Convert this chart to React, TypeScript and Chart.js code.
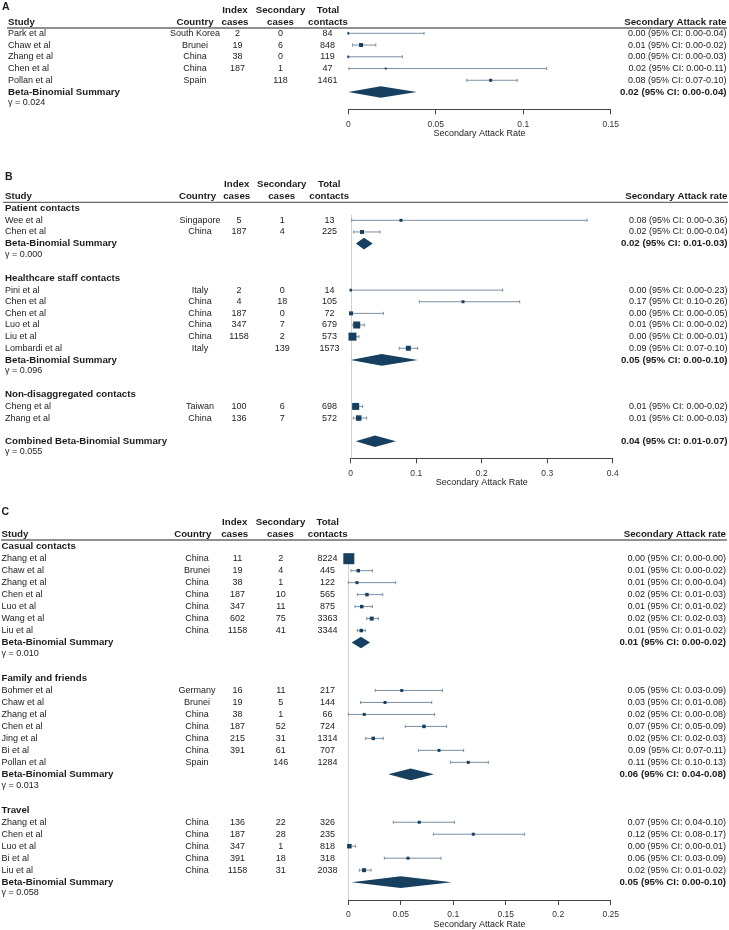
import React, { useEffect, useRef } from "react";
import { Chart, registerables } from "chart.js";

Chart.register(...registerables);

// ---------------- Panel A ----------------
const A_GROUPS = [""];
const A_STUDY = ["Park et al", "Chaw et al", "Zhang et al", "Chen et al", "Pollan et al"];
const A_COUNTRY = ["South Korea", "Brunei", "China", "China", "Spain"];
const A_INDEX = ["2", "19", "38", "187", ""];
const A_SECONDARY = ["0", "6", "0", "1", "118"];
const A_TOTAL = ["84", "848", "119", "47", "1461"];
const A_GROUP = [0, 0, 0, 0, 0];
const A_SAR = [0.0, 0.0073, 0.0, 0.0214, 0.0814];
const A_LOW = [0.0, 0.0025, 0.0, 0.0004, 0.0677];
const A_HIGH = [0.0433, 0.0157, 0.0309, 0.1134, 0.0966];
const A_LABEL = [
  "0.00 (95% CI: 0.00-0.04)",
  "0.01 (95% CI: 0.00-0.02)",
  "0.00 (95% CI: 0.00-0.03)",
  "0.02 (95% CI: 0.00-0.11)",
  "0.08 (95% CI: 0.07-0.10)",
];
const A_WEIGHT = [2, 4, 2, 2, 3];
const A_SUM_AFTER = [0];
const A_SUM_GAP = [0];
const A_SUM_NAME = ["Beta-Binomial Summary"];
const A_SUM_EST = [0.0185];
const A_SUM_LOW = [0.0];
const A_SUM_HIGH = [0.0391];
const A_SUM_TEXT = ["0.02 (95% CI: 0.00-0.04)"];
const A_GAMMA = ["γ = 0.024"];
const A_TICKS = [0, 0.05, 0.1, 0.15];

// ---------------- Panel B ----------------
const B_GROUPS = ["Patient contacts", "Healthcare staff contacts", "Non-disaggregated contacts"];
const B_STUDY = ["Wee et al", "Chen et al", "Pini et al", "Chen et al", "Chen et al", "Luo et al", "Liu et al", "Lombardi et al", "Cheng et al", "Zhang et al"];
const B_COUNTRY = ["Singapore", "China", "Italy", "China", "China", "China", "China", "Italy", "Taiwan", "China"];
const B_INDEX = ["5", "187", "2", "4", "187", "347", "1158", "", "100", "136"];
const B_SECONDARY = ["1", "4", "0", "18", "0", "7", "2", "139", "6", "7"];
const B_TOTAL = ["13", "225", "14", "105", "72", "679", "573", "1573", "698", "572"];
const B_GROUP = [0, 0, 1, 1, 1, 1, 1, 1, 2, 2];
const B_SAR = [0.0768, 0.0173, 0.0, 0.1715, 0.0005, 0.0092, 0.0027, 0.088, 0.0076, 0.0122];
const B_LOW = [0.0015, 0.0046, 0.0, 0.1047, 0.0, 0.0035, 0.0, 0.0742, 0.003, 0.004];
const B_HIGH = [0.3608, 0.0447, 0.232, 0.258, 0.0498, 0.0208, 0.0127, 0.1023, 0.0183, 0.0244];
const B_LABEL = [
  "0.08 (95% CI: 0.00-0.36)",
  "0.02 (95% CI: 0.00-0.04)",
  "0.00 (95% CI: 0.00-0.23)",
  "0.17 (95% CI: 0.10-0.26)",
  "0.00 (95% CI: 0.00-0.05)",
  "0.01 (95% CI: 0.00-0.02)",
  "0.00 (95% CI: 0.00-0.01)",
  "0.09 (95% CI: 0.07-0.10)",
  "0.01 (95% CI: 0.00-0.02)",
  "0.01 (95% CI: 0.00-0.03)",
];
const B_WEIGHT = [3, 4, 2.5, 3, 4, 7, 8, 5, 7, 5.5];
const B_SUM_AFTER = [0, 1, 2];
const B_SUM_GAP = [0, 0, 1];
const B_SUM_NAME = ["Beta-Binomial Summary", "Beta-Binomial Summary", "Combined Beta-Binomial Summary"];
const B_SUM_EST = [0.0203, 0.0473, 0.037];
const B_SUM_LOW = [0.008, 0.0, 0.0076];
const B_SUM_HIGH = [0.0336, 0.1023, 0.069];
const B_SUM_TEXT = ["0.02 (95% CI: 0.01-0.03)", "0.05 (95% CI: 0.00-0.10)", "0.04 (95% CI: 0.01-0.07)"];
const B_GAMMA = ["γ = 0.000", "γ = 0.096", "γ = 0.055"];
const B_TICKS = [0, 0.1, 0.2, 0.3, 0.4];

// ---------------- Panel C ----------------
const C_GROUPS = ["Casual contacts", "Family and friends", "Travel"];
const C_STUDY = [
  "Zhang et al", "Chaw et al", "Zhang et al", "Chen et al", "Luo et al", "Wang et al", "Liu et al",
  "Bohmer et al", "Chaw et al", "Zhang et al", "Chen et al", "Jing et al", "Bi et al", "Pollan et al",
  "Zhang et al", "Chen et al", "Luo et al", "Bi et al", "Liu et al",
];
const C_COUNTRY = [
  "China", "Brunei", "China", "China", "China", "China", "China",
  "Germany", "Brunei", "China", "China", "China", "China", "Spain",
  "China", "China", "China", "China", "China",
];
const C_INDEX = ["11", "19", "38", "187", "347", "602", "1158", "16", "19", "38", "187", "215", "391", "", "136", "187", "347", "391", "1158"];
const C_SECONDARY = ["2", "4", "1", "10", "11", "75", "41", "11", "5", "1", "52", "31", "61", "146", "22", "28", "1", "18", "31"];
const C_TOTAL = ["8224", "445", "122", "565", "875", "3363", "3344", "217", "144", "66", "724", "1314", "707", "1284", "326", "235", "818", "318", "2038"];
const C_GROUP = [0, 0, 0, 0, 0, 0, 0, 1, 1, 1, 1, 1, 1, 1, 2, 2, 2, 2, 2];
const C_SAR = [0.0005, 0.0095, 0.0083, 0.0178, 0.0128, 0.0223, 0.0124, 0.0509, 0.035, 0.0152, 0.0721, 0.0238, 0.0864, 0.1143, 0.0676, 0.1191, 0.001, 0.0569, 0.015];
const C_LOW = [0.0003, 0.0026, 0.0, 0.0086, 0.0064, 0.0175, 0.0086, 0.0257, 0.0118, 0.0, 0.0543, 0.0166, 0.0667, 0.0972, 0.0429, 0.081, 0.0, 0.0343, 0.0105];
const C_HIGH = [0.0008, 0.0229, 0.0452, 0.0328, 0.0229, 0.0286, 0.0162, 0.0896, 0.0795, 0.0823, 0.0937, 0.0333, 0.1099, 0.1334, 0.101, 0.1677, 0.007, 0.0883, 0.0216];
const C_LABEL = [
  "0.00 (95% CI: 0.00-0.00)",
  "0.01 (95% CI: 0.00-0.02)",
  "0.01 (95% CI: 0.00-0.04)",
  "0.02 (95% CI: 0.01-0.03)",
  "0.01 (95% CI: 0.01-0.02)",
  "0.02 (95% CI: 0.02-0.03)",
  "0.01 (95% CI: 0.01-0.02)",
  "0.05 (95% CI: 0.03-0.09)",
  "0.03 (95% CI: 0.01-0.08)",
  "0.02 (95% CI: 0.00-0.08)",
  "0.07 (95% CI: 0.05-0.09)",
  "0.02 (95% CI: 0.02-0.03)",
  "0.09 (95% CI: 0.07-0.11)",
  "0.11 (95% CI: 0.10-0.13)",
  "0.07 (95% CI: 0.04-0.10)",
  "0.12 (95% CI: 0.08-0.17)",
  "0.00 (95% CI: 0.00-0.01)",
  "0.06 (95% CI: 0.03-0.09)",
  "0.02 (95% CI: 0.01-0.02)",
];
const C_WEIGHT = [11, 3.5, 3, 3.5, 3.5, 4, 3.5, 3, 3, 3, 3.5, 3.5, 3, 3, 3, 3, 4.5, 3, 4];
const C_SUM_AFTER = [0, 1, 2];
const C_SUM_GAP = [0, 0, 0];
const C_SUM_NAME = ["Beta-Binomial Summary", "Beta-Binomial Summary", "Beta-Binomial Summary"];
const C_SUM_EST = [0.0121, 0.0594, 0.0499];
const C_SUM_LOW = [0.0032, 0.0381, 0.0032];
const C_SUM_HIGH = [0.0207, 0.0816, 0.0985];
const C_SUM_TEXT = ["0.01 (95% CI: 0.00-0.02)", "0.06 (95% CI: 0.04-0.08)", "0.05 (95% CI: 0.00-0.10)"];
const C_GAMMA = ["γ = 0.010", "γ = 0.013", "γ = 0.058"];
const C_TICKS = [0, 0.05, 0.1, 0.15, 0.2, 0.25];

// ---------------- styling ----------------
const FONT = '"Liberation Sans", Arial, Helvetica, sans-serif';
const NAVY = "#173f5f";
const CI_COLOR = "#7b8fa1";
const TXT = "#1c1c1c";
const REG = 9;
const BOLD = 9.7;
const AXIS_H = 30;

function makeData(p: any) {
  return p;
}

const DATA_A = makeData({
  groups: A_GROUPS, study: A_STUDY, country: A_COUNTRY, index: A_INDEX, secondary: A_SECONDARY, total: A_TOTAL,
  group: A_GROUP, sar: A_SAR, low: A_LOW, high: A_HIGH, label: A_LABEL, weight: A_WEIGHT,
  sumAfter: A_SUM_AFTER, sumGap: A_SUM_GAP, sumName: A_SUM_NAME, sumEst: A_SUM_EST, sumLow: A_SUM_LOW,
  sumHigh: A_SUM_HIGH, sumText: A_SUM_TEXT, gamma: A_GAMMA, ticks: A_TICKS,
});
const DATA_B = makeData({
  groups: B_GROUPS, study: B_STUDY, country: B_COUNTRY, index: B_INDEX, secondary: B_SECONDARY, total: B_TOTAL,
  group: B_GROUP, sar: B_SAR, low: B_LOW, high: B_HIGH, label: B_LABEL, weight: B_WEIGHT,
  sumAfter: B_SUM_AFTER, sumGap: B_SUM_GAP, sumName: B_SUM_NAME, sumEst: B_SUM_EST, sumLow: B_SUM_LOW,
  sumHigh: B_SUM_HIGH, sumText: B_SUM_TEXT, gamma: B_GAMMA, ticks: B_TICKS,
});
const DATA_C = makeData({
  groups: C_GROUPS, study: C_STUDY, country: C_COUNTRY, index: C_INDEX, secondary: C_SECONDARY, total: C_TOTAL,
  group: C_GROUP, sar: C_SAR, low: C_LOW, high: C_HIGH, label: C_LABEL, weight: C_WEIGHT,
  sumAfter: C_SUM_AFTER, sumGap: C_SUM_GAP, sumName: C_SUM_NAME, sumEst: C_SUM_EST, sumLow: C_SUM_LOW,
  sumHigh: C_SUM_HIGH, sumText: C_SUM_TEXT, gamma: C_GAMMA, ticks: C_TICKS,
});

const LAYOUT_A = {
  letter: "A", top: 0, height: 145, underline: 28, axis: 109.3, yMin: -0.45, yMax: 6.47,
  padLeft: 348.3, padRight: 729 - 610.7, letterX: 2, letterDy: -21, studyX: 8, lineX0: 7, lineX1: 727,
  countryHdrX: 195, countryX: 195, idxHdrX: 235, idxX: 237.5, secHdrX: 280.5, secX: 280.5, totHdrX: 328, totX: 327.5,
  rightX: 726.5, refLine: false,
};
const LAYOUT_B = {
  letter: "B", top: 145, height: 345, underline: 202.3 - 145, axis: 458.3 - 145, yMin: -0.55, yMax: 21.46,
  padLeft: 350.7, padRight: 729 - 612.7, letterX: 5, letterDy: -25.6, studyX: 5, lineX0: 3, lineX1: 728,
  countryHdrX: 197.5, countryX: 200, idxHdrX: 236.7, idxX: 239, secHdrX: 281.7, secX: 282.3, totHdrX: 329.2, totX: 329.5,
  rightX: 727.5, refLine: true,
};
const LAYOUT_C = {
  letter: "C", top: 490, height: 440, underline: 50, axis: 410, yMin: -0.56, yMax: 29.49,
  padLeft: 348.3, padRight: 729 - 610.7, letterX: 1.5, letterDy: -27.7, studyX: 1.5, lineX0: 1, lineX1: 727,
  countryHdrX: 192.7, countryX: 197, idxHdrX: 234.7, idxX: 237.5, secHdrX: 280.5, secX: 280.8, totHdrX: 327.7, totX: 327.5,
  rightX: 726, refLine: true,
};

function buildRows(d: any) {
  const rows: any[] = [];
  let r = 0;
  d.groups.forEach((g: string, gi: number) => {
    if (g) {
      rows.push({ kind: "group", r, text: g });
      r++;
    }
    d.group.forEach((gg: number, i: number) => {
      if (gg === gi) {
        rows.push({ kind: "study", r, i });
        r++;
      }
    });
    d.sumAfter.forEach((sa: number, si: number) => {
      if (sa === gi) {
        r += d.sumGap[si];
        rows.push({ kind: "sum", r, i: si });
        r += 2;
      }
    });
    if (gi < d.groups.length - 1) r++;
  });
  return rows;
}

function Panel({ d, L }: { d: any; L: any }) {
  const ref = useRef<HTMLCanvasElement | null>(null);
  useEffect(() => {
    const rows = buildRows(d);
    const studyRows = rows.filter((r) => r.kind === "study");
    const xMax = d.ticks[d.ticks.length - 1];

    const forest = {
      id: "forest" + L.letter,
      beforeDatasetsDraw(chart: any) {
        const { ctx, chartArea, scales } = chart;
        const x = scales.x;
        const y = scales.y;
        ctx.save();
        if (L.refLine) {
          const px = Math.round(x.getPixelForValue(0)) + 0.5;
          ctx.strokeStyle = "#cfd2d5";
          ctx.lineWidth = 1;
          ctx.beginPath();
          ctx.moveTo(px, y.getPixelForValue(0.5));
          ctx.lineTo(px, chartArea.bottom);
          ctx.stroke();
        }
        rows.forEach((row) => {
          const py = y.getPixelForValue(row.r);
          if (row.kind === "study") {
            const xl = x.getPixelForValue(d.low[row.i]);
            const xh = x.getPixelForValue(d.high[row.i]);
            ctx.strokeStyle = CI_COLOR;
            ctx.lineWidth = 1;
            ctx.beginPath();
            ctx.moveTo(xl, py);
            ctx.lineTo(xh, py);
            ctx.moveTo(xl, py - 1.6);
            ctx.lineTo(xl, py + 1.6);
            ctx.moveTo(xh, py - 1.6);
            ctx.lineTo(xh, py + 1.6);
            ctx.stroke();
          } else if (row.kind === "sum") {
            const xl = x.getPixelForValue(d.sumLow[row.i]);
            const xh = x.getPixelForValue(d.sumHigh[row.i]);
            const xe = x.getPixelForValue(d.sumEst[row.i]);
            const h = 5.8;
            ctx.fillStyle = NAVY;
            ctx.beginPath();
            ctx.moveTo(xl, py);
            ctx.lineTo(xe, py - h);
            ctx.lineTo(xh, py);
            ctx.lineTo(xe, py + h);
            ctx.closePath();
            ctx.fill();
          }
        });
        ctx.restore();
      },
      afterDraw(chart: any) {
        const { ctx, chartArea, scales } = chart;
        const y = scales.y;
        const top = chartArea.top;
        const reg = `${REG}px ${FONT}`;
        const bold = `bold ${BOLD}px ${FONT}`;
        ctx.save();
        ctx.fillStyle = TXT;
        ctx.textBaseline = "middle";

        const put = (t: string, px: number, py: number, align: CanvasTextAlign, font: string) => {
          ctx.font = font;
          ctx.textAlign = align;
          ctx.fillText(t, px, py);
        };

        // panel letter
        put(L.letter, L.letterX, top + L.letterDy, "left", `bold 10.5px ${FONT}`);
        // header lines
        const h1 = top - 17.5;
        const h2 = top - 6;
        put("Index", L.idxHdrX, h1, "center", bold);
        put("Secondary", L.secHdrX, h1, "center", bold);
        put("Total", L.totHdrX, h1, "center", bold);
        put("Study", L.studyX, h2, "left", bold);
        put("Country", L.countryHdrX, h2, "center", bold);
        put("cases", L.idxHdrX, h2, "center", bold);
        put("cases", L.secHdrX, h2, "center", bold);
        put("contacts", L.totHdrX, h2, "center", bold);
        put("Secondary Attack rate", L.rightX, h2, "right", bold);

        ctx.strokeStyle = "#6b6b6b";
        ctx.lineWidth = 1.3;
        ctx.beginPath();
        ctx.moveTo(L.lineX0, top);
        ctx.lineTo(L.lineX1, top);
        ctx.stroke();

        rows.forEach((row) => {
          const py = y.getPixelForValue(row.r);
          if (row.kind === "group") {
            put(row.text, L.studyX, py, "left", bold);
          } else if (row.kind === "study") {
            const i = row.i;
            put(d.study[i], L.studyX, py, "left", reg);
            put(d.country[i], L.countryX, py, "center", reg);
            put(d.index[i], L.idxX, py, "center", reg);
            put(d.secondary[i], L.secX, py, "center", reg);
            put(d.total[i], L.totX, py, "center", reg);
            put(d.label[i], L.rightX, py, "right", reg);
          } else if (row.kind === "sum") {
            const i = row.i;
            put(d.sumName[i], L.studyX, py, "left", bold);
            put(d.sumText[i], L.rightX, py, "right", bold);
            put(d.gamma[i], L.studyX, y.getPixelForValue(row.r + 0.9), "left", reg);
          }
        });
        ctx.restore();
      },
    };

    const chart = new Chart(ref.current as HTMLCanvasElement, {
      type: "scatter",
      data: {
        datasets: [
          {
            data: studyRows.map((r) => ({ x: d.sar[r.i], y: r.r })),
            pointStyle: "rect",
            pointRadius: studyRows.map((r) => d.weight[r.i] / Math.SQRT2),
            pointBackgroundColor: NAVY,
            pointBorderWidth: 0,
            borderWidth: 0,
            clip: false as any,
          },
        ],
      },
      options: {
        animation: false,
        responsive: false,
        events: [],
        layout: {
          padding: {
            left: L.padLeft,
            right: L.padRight,
            top: L.underline,
            bottom: L.height - L.axis - AXIS_H,
          },
        },
        plugins: {
          legend: { display: false },
          tooltip: { enabled: false },
          title: { display: false },
        },
        scales: {
          x: {
            type: "linear",
            min: 0,
            max: xMax,
            afterBuildTicks: (s: any) => {
              s.ticks = d.ticks.map((v: number) => ({ value: v }));
            },
            afterFit: (s: any) => {
              s.height = AXIS_H;
            },
            ticks: {
              callback: (v: any) => String(v),
              font: { family: FONT, size: 8.5 },
              color: "#333",
              padding: 5,
              maxRotation: 0,
              autoSkip: false,
            },
            grid: {
              display: true,
              drawOnChartArea: false,
              drawTicks: true,
              tickLength: 5,
              tickColor: "#444",
              tickWidth: 1,
            },
            border: { display: true, color: "#444", width: 1 },
            title: {
              display: true,
              text: "Secondary Attack Rate",
              font: { family: FONT, size: 9 },
              color: "#222",
              padding: 0,
            },
          },
          y: {
            type: "linear",
            display: false,
            min: L.yMin,
            max: L.yMax,
            reverse: true,
          },
        },
      },
      plugins: [forest],
    } as any);
    return () => chart.destroy();
  }, []);
  return (
    <canvas
      ref={ref}
      width={729}
      height={L.height}
      style={{ position: "absolute", left: 0, top: L.top, width: 729, height: L.height, display: "block" }}
    />
  );
}

export default function App() {
  return (
    <div style={{ position: "absolute", left: 0, top: 0, width: 729, height: 930, background: "#fff" }}>
      <Panel d={DATA_A} L={LAYOUT_A} />
      <Panel d={DATA_B} L={LAYOUT_B} />
      <Panel d={DATA_C} L={LAYOUT_C} />
    </div>
  );
}
